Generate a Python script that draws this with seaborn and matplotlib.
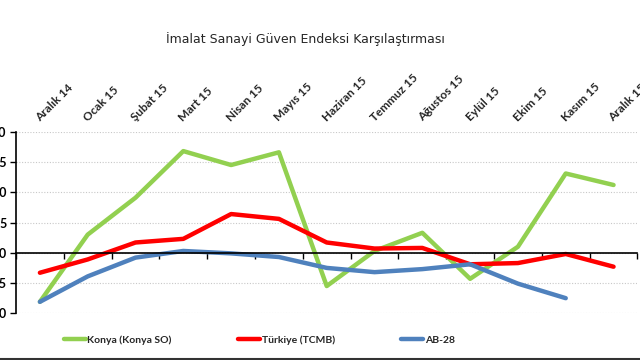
import numpy as np
import pandas as pd
import seaborn as sns
import matplotlib.pyplot as plt
from matplotlib.lines import Line2D

months = ["Aralık 14", "Ocak 15", "Şubat 15", "Mart 15", "Nisan 15", "Mayıs 15",
          "Haziran 15", "Temmuz 15", "Ağustos 15", "Eylül 15", "Ekim 15",
          "Kasım 15", "Aralık 15"]
konya = [-8.1, 3.0, 9.1, 16.8, 14.5, 16.6, -5.5, 0.3, 3.3, -4.3, 1.0, 13.1, 11.2]
turkiye = [-3.3, -1.1, 1.7, 2.3, 6.4, 5.6, 1.7, 0.7, 0.8, -1.9, -1.7, -0.2, -2.3]
ab28 = [-8.1, -3.9, -0.8, 0.3, -0.1, -0.7, -2.5, -3.2, -2.7, -1.9, -5.1, -7.5, np.nan]
series_names = ["Konya (Konya SO)", "Türkiye (TCMB)", "AB-28"]
yticks = [-10, -5, 0, 5, 10, 15, 20]

colors = ["#92D050", "#FF0000", "#4F81BD"]

df = pd.DataFrame({"ay": np.arange(len(months)),
                   series_names[0]: konya,
                   series_names[1]: turkiye,
                   series_names[2]: ab28})
long = df.melt(id_vars="ay", var_name="seri", value_name="deger")

sns.set_style("white")
plt.rcParams['font.family'] = ['Lato', 'DejaVu Sans']

fig = plt.figure(figsize=(6.4, 3.6), dpi=100)
ax = fig.add_axes([0.025, 0.1297, 0.971, 0.5044])

sns.lineplot(data=long, x="ay", y="deger", hue="seri", hue_order=series_names,
             palette=colors, linewidth=3.2, ax=ax, legend=False, sort=False)

ax.set_xlim(-0.5, len(months) - 0.5)
ax.set_ylim(-10, 20)
ax.set_xlabel("")
ax.set_ylabel("")

# y axis
ax.set_yticks(yticks)
ax.set_yticklabels([str(v) for v in yticks], fontsize=9, fontweight='bold')
ax.yaxis.grid(True, color='#c8c8c8', linestyle=(0, (1, 1.5)), linewidth=0.8)
ax.tick_params(axis='y', left=True, length=4, width=1, direction='out', pad=3, colors='black')

# x axis at zero, month labels on top
ax.spines['top'].set_visible(False)
ax.spines['right'].set_visible(False)
ax.spines['bottom'].set_position(('data', 0))
for s in ['left', 'bottom']:
    ax.spines[s].set_color('black')
    ax.spines[s].set_linewidth(1.2)

ax.set_xticks(np.arange(len(months)))
ax.set_xticklabels(months, fontsize=8.5, fontweight='bold', rotation=45,
                   ha='left', va='baseline', rotation_mode='anchor')
ax.tick_params(axis='x', which='major', bottom=False, top=False,
               labelbottom=False, labeltop=True, pad=7, length=0)
ax.set_xticks(np.arange(len(months) + 1) - 0.5, minor=True)
ax.tick_params(axis='x', which='minor', bottom=True, length=4, width=1,
               direction='out', color='black')

fig.text(0.477, 0.892, "İmalat Sanayi Güven Endeksi Karşılaştırması",
         ha='center', va='center', fontsize=9, family=['DejaVu Sans'])

handles = [Line2D([], [], color=c, linewidth=3.2) for c in colors]
fig.legend(handles, series_names, loc='center', bbox_to_anchor=(0.405, 0.056),
           ncol=3, frameon=False, handlelength=2.1, handletextpad=0.15,
           columnspacing=6.4, prop={'weight': 'bold', 'size': 7.5})

fig.add_artist(Line2D([0, 1], [0.004, 0.004], color='#333333', linewidth=1.5,
                      transform=fig.transFigure))

fig.savefig("out.png", dpi=100)
